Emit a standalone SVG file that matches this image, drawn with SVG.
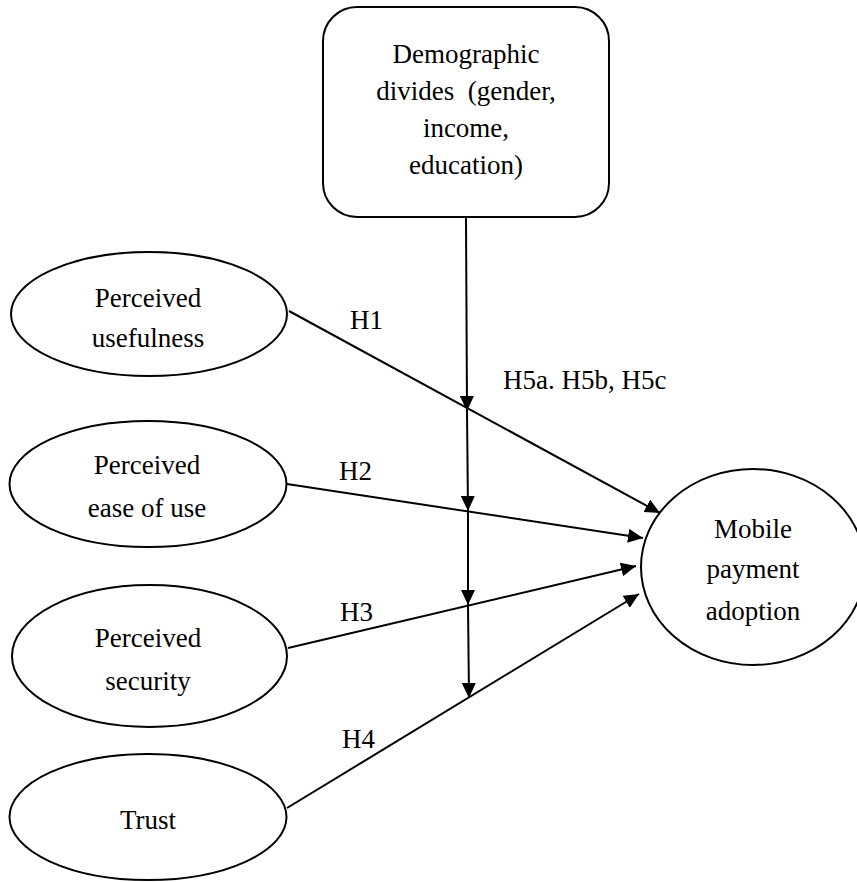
<svg xmlns="http://www.w3.org/2000/svg" width="857" height="882" viewBox="0 0 857 882">
<style>
.shape{fill:#fff;stroke:#000;stroke-width:2}
.lbl{font-family:"Liberation Serif","Times New Roman",serif;font-size:27px;fill:#000;text-anchor:middle}
.hl{font-family:"Liberation Serif","Times New Roman",serif;font-size:27px;fill:#000}
.edge{stroke:#000;stroke-width:2;fill:none;marker-end:url(#arr)}
</style>
<defs>
<marker id="arr" markerUnits="userSpaceOnUse" markerWidth="16" markerHeight="14" viewBox="0 0 16 14" refX="15" refY="7" orient="auto">
<path d="M0,0 L15,7 L0,14 Z" fill="#000"/>
</marker>
</defs>
<rect width="857" height="882" fill="#fff"/>
<g id="connectors">
<line class="edge" x1="289" y1="311" x2="660" y2="513"/>
<line class="edge" x1="287" y1="484" x2="643" y2="538"/>
<line class="edge" x1="288" y1="648" x2="636" y2="566"/>
<line class="edge" x1="287" y1="808" x2="639" y2="594"/>
<line class="edge" x1="466" y1="217" x2="467" y2="411"/>
<line class="edge" x1="467" y1="411" x2="468" y2="511"/>
<line class="edge" x1="468" y1="511" x2="468" y2="605"/>
<line class="edge" x1="468" y1="605" x2="469" y2="698"/>
</g>
<g id="labels">
<text class="hl" x="350" y="329">H1</text>
<text class="hl" x="339" y="480">H2</text>
<text class="hl" x="340" y="621">H3</text>
<text class="hl" x="342" y="748">H4</text>
<text class="hl" x="503" y="389">H5a. H5b, H5c</text>
</g>
<g id="demographic">
<rect class="shape" x="323" y="7" width="286" height="210" rx="34" ry="34"/>
<text class="lbl" x="466" y="63">Demographic</text>
<text class="lbl" x="466" y="100" xml:space="preserve">divides  (gender,</text>
<text class="lbl" x="466" y="137">income,</text>
<text class="lbl" x="466" y="174">education)</text>
</g>
<g id="usefulness">
<ellipse class="shape" cx="149" cy="314" rx="138" ry="62"/>
<text class="lbl" x="148" y="307">Perceived</text>
<text class="lbl" x="148" y="347">usefulness</text>
</g>
<g id="ease">
<ellipse class="shape" cx="148" cy="484" rx="138.5" ry="63"/>
<text class="lbl" x="147" y="474">Perceived</text>
<text class="lbl" x="147" y="517">ease of use</text>
</g>
<g id="security">
<ellipse class="shape" cx="149.5" cy="656" rx="137.5" ry="71"/>
<text class="lbl" x="148" y="647">Perceived</text>
<text class="lbl" x="148" y="690">security</text>
</g>
<g id="trust">
<ellipse class="shape" cx="148" cy="817" rx="138.5" ry="63"/>
<text class="lbl" x="148" y="829">Trust</text>
</g>
<g id="adoption">
<ellipse class="shape" cx="753" cy="567" rx="112" ry="98"/>
<text class="lbl" x="753" y="538">Mobile</text>
<text class="lbl" x="753" y="578">payment</text>
<text class="lbl" x="753" y="620">adoption</text>
</g>
</svg>
